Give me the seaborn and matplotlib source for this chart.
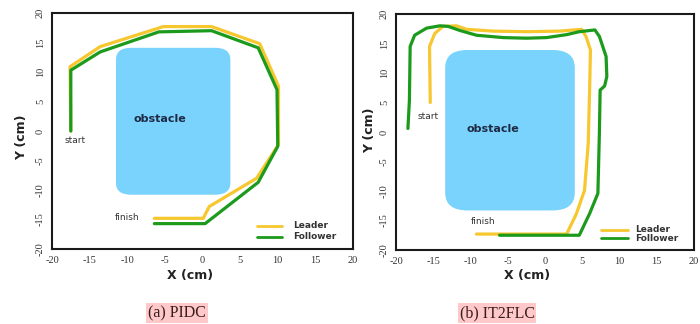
import numpy as np
import pandas as pd
import seaborn as sns
import matplotlib
matplotlib.use("Agg")
import matplotlib.pyplot as plt
from matplotlib.patches import FancyBboxPatch

# ---------- data (a) PIDC ----------
pidc_leader_x = [-17.5, -17.6, -13.6, -5.2, 1.2, 7.6, 10.1, 10.1, 7.2, 0.9, 0.1, -6.4]
pidc_leader_y = [0.0, 10.9, 14.3, 17.7, 17.7, 14.8, 7.6, -2.3, -8.0, -12.8, -14.8, -14.8]
pidc_follower_x = [-17.5, -17.5, -13.6, -5.8, 1.2, 7.4, 9.9, 10.0, 7.4, 0.35, -6.4]
pidc_follower_y = [0.0, 10.3, 13.4, 16.8, 17.0, 14.1, 7.0, -2.6, -8.7, -15.7, -15.7]

# ---------- data (b) IT2FLC ----------
it2_leader_x = [-15.4, -15.5, -14.8, -13.7, -11.9, -10.5, -7.0, -2.5, 2.0, 4.9, 5.5, 6.1,
                6.0, 5.8, 5.3, 4.2, 2.9, -9.2]
it2_leader_y = [5.0, 14.5, 16.7, 17.9, 18.0, 17.4, 17.1, 17.0, 17.1, 17.4, 16.2, 13.9,
                7.7, -2.0, -9.9, -13.9, -17.3, -17.3]
it2_follower_x = [-18.4, -18.2, -18.1, -17.5, -15.9, -14.1, -13.0, -11.4, -9.2, -5.6, -2.5,
                  0.2, 2.9, 4.6, 6.7, 7.3, 8.2, 8.3, 8.0, 7.4, 7.3, 7.1, 6.0, 4.6, -6.1]
it2_follower_y = [0.6, 5.4, 14.5, 16.4, 17.6, 18.0, 17.9, 17.2, 16.4, 16.0, 15.9,
                  16.0, 16.5, 17.0, 17.3, 16.2, 12.8, 9.4, 7.8, 7.1, -0.2, -10.4, -13.8, -17.5, -17.5]

# obstacles: (x0, x1, y0, y1)
pidc_obstacle = [-11.5, 3.7, -10.8, 14.1]
it2_obstacle = [-13.4, 4.0, -13.3, 13.9]

ticks = [-20, -15, -10, -5, 0, 5, 10, 15, 20]
captions = ["(a) PIDC", "(b) IT2FLC"]
series_names = ["Leader", "Follower"]

YELLOW = "#F6C72E"
GREEN = "#1C9A1C"
BLUE = "#79D3FD"

sns.set_style("white")
fig = plt.figure(figsize=(7.0, 3.24), dpi=100)

def make_df(lx, ly, fx, fy):
    d1 = pd.DataFrame({"x": lx, "y": ly, "who": "Leader", "order": range(len(lx))})
    d2 = pd.DataFrame({"x": fx, "y": fy, "who": "Follower", "order": range(len(fx))})
    return pd.concat([d1, d2], ignore_index=True)

panels = [
    dict(rect=[52/700, 1-249/324, 301/700, 236/324],
         df=make_df(pidc_leader_x, pidc_leader_y, pidc_follower_x, pidc_follower_y),
         obs=pidc_obstacle, rad=2.0, obs_txt=(-5.6, 2.1), start=(-16.9, -1.6), finish=(-10.0, -14.7),
         leg=(7.3, 10.6, 12.0, -16.1, -17.9)),
    dict(rect=[396/700, 1-250/324, 298/700, 236/324],
         df=make_df(it2_leader_x, it2_leader_y, it2_follower_x, it2_follower_y),
         obs=it2_obstacle, rad=3.0, obs_txt=(-7.0, 0.5), start=(-15.7, 2.6), finish=(-8.3, -15.2),
         leg=(7.5, 11.1, 12.1, -16.6, -18.0)),
]

for i, p in enumerate(panels):
    ax = fig.add_axes(p["rect"])
    x0, x1, y0, y1 = p["obs"]
    r = p["rad"]
    ax.add_patch(FancyBboxPatch((x0 + r, y0 + r), (x1 - x0) - 2*r, (y1 - y0) - 2*r,
                                boxstyle=f"round,pad={r}", fc=BLUE, ec="none",
                                mutation_aspect=1.0, zorder=1))
    sns.lineplot(data=p["df"], x="x", y="y", hue="who", sort=False, estimator=None,
                 units="who", palette={"Leader": YELLOW, "Follower": GREEN},
                 hue_order=series_names, lw=2.3, ax=ax, legend=False, zorder=3)
    ax.set_xlim(-20, 20)
    ax.set_ylim(-20, 20)
    ax.set_xticks(ticks)
    ax.set_yticks(ticks)
    ax.set_xticklabels([str(t) for t in ticks], family="Liberation Serif",
                       fontsize=7.5, color="#333333")
    ax.set_yticklabels([str(t) for t in ticks], family="Liberation Serif",
                       fontsize=7.5, color="#333333", rotation=90, va="center")
    ax.tick_params(axis="both", direction="out", length=3, width=1.2, color="#222222", pad=2)
    ax.set_xlabel("")
    ax.set_ylabel("")
    for s in ax.spines.values():
        s.set_color("#1a1a1a")
        s.set_linewidth(1.5)
    ax.text(*p["obs_txt"], "obstacle", fontsize=8, fontweight="bold", color="#1f2a44",
            ha="center", va="center", zorder=4)
    ax.text(*p["start"], "start", fontsize=6.5, color="#333333", ha="center", va="center")
    ax.text(*p["finish"], "finish", fontsize=6.5, color="#333333", ha="center", va="center")
    lx0, lx1, tx, ly1, ly2 = p["leg"]
    ax.plot([lx0, lx1], [ly1, ly1], color=YELLOW, lw=2.0)
    ax.plot([lx0, lx1], [ly2, ly2], color=GREEN, lw=2.0)
    ax.text(tx, ly1, series_names[0], fontsize=6.5, fontweight="bold", color="#333333", va="center")
    ax.text(tx, ly2, series_names[1], fontsize=6.5, fontweight="bold", color="#333333", va="center")

# axis labels and captions
fig.text(22/700, 1-137/324, "Y (cm)", rotation=90, fontsize=9, fontweight="bold",
         color="#222222", ha="center", va="center")
fig.text(370/700, 1-130/324, "Y (cm)", rotation=90, fontsize=9, fontweight="bold",
         color="#222222", ha="center", va="center")
fig.text(190/700, 1-275/324, "X (cm)", fontsize=9, fontweight="bold",
         color="#222222", ha="center", va="center")
fig.text(527/700, 1-275/324, "X (cm)", fontsize=9, fontweight="bold",
         color="#222222", ha="center", va="center")
for cx, cap in zip([177/700, 497/700], captions):
    fig.text(cx, 1-313/324, cap, fontsize=11.5, family="Liberation Serif", color="#3a1b1b",
             ha="center", va="center",
             bbox=dict(boxstyle="square,pad=0.1", fc="#FFC9C9", ec="none"))

fig.savefig("out.png", dpi=100, facecolor="white")
